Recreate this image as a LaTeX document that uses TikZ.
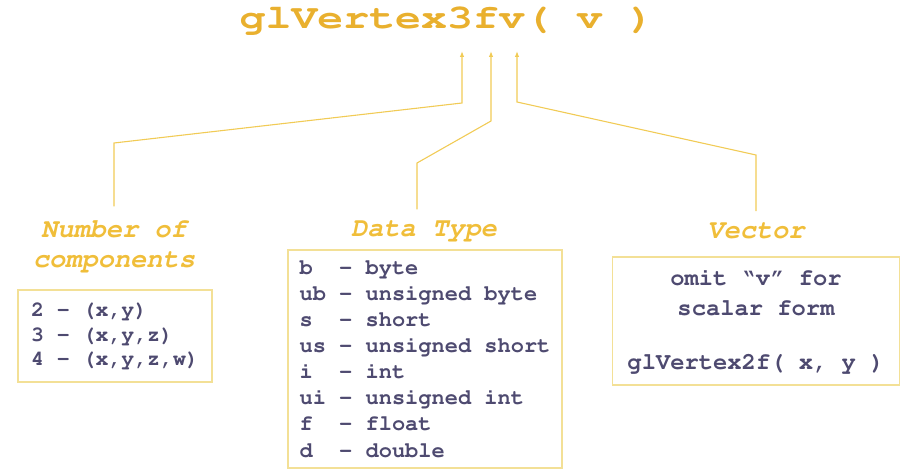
\documentclass[tikz,border=0pt]{standalone}
\usepackage[T1]{fontenc}
\usepackage{graphicx}
\usetikzlibrary{arrows.meta}
\newcommand{\courbold}{\fontencoding{T1}\fontfamily{pcr}\fontseries{b}\selectfont}
\definecolor{titlegold}{RGB}{233,176,46}
\definecolor{labelgold}{RGB}{240,190,58}
\definecolor{linegold}{RGB}{241,203,86}
\definecolor{boxline}{RGB}{243,224,150}
\definecolor{boxtext}{RGB}{78,74,112}
\tikzset{
	titletext/.style={font=\courbold\fontsize{34}{34}\selectfont, text=titlegold, inner sep=0pt},
	labeltext/.style={font=\courbold\itshape\fontsize{27}{30}\selectfont, text=labelgold, align=center, inner sep=0pt},
	listbox/.style={draw=boxline, line width=1.3pt, text=boxtext, inner sep=0pt},
	conn/.style={draw=linegold, line width=1.1pt, -{Latex[length=6pt,width=4.5pt]}}
}

\begin{document}
\begin{tikzpicture}[x=1pt,y=-1pt]
			%%%%% START %%%%%
			\useasboundingbox (0,0) rectangle (912,470);
			
			\node[titletext, anchor=base] (title) at (447,29) {\scalebox{1.27}[1]{glVertex3fv( v )}};
			
			\node[labeltext] (numlbl) at (114,246) {Number of\\components};
			\node[labeltext] (datalbl) at (424,231) {Data Type};
			\node[labeltext] (veclbl) at (756,231) {Vector};
			
			\node[listbox, minimum width=194pt, minimum height=92pt, align=left,
				font=\courbold\fontsize{21.5}{24.5}\selectfont] (numbox) at (115,336)
				{2 - (x,y)\\3 - (x,y,z)\\4 - (x,y,z,w)};
			\node[listbox, minimum width=274pt, minimum height=218pt, align=left,
				font=\courbold\fontsize{22}{26.1}\selectfont] (databox) at (425,359)
				{b\ \ - byte\\ub - unsigned byte\\s\ \ - short\\us - unsigned short\\i\ \ - int\\ui - unsigned int\\f\ \ - float\\d\ \ - double};
			\node[listbox, minimum width=287pt, minimum height=128pt, align=center,
				font=\courbold\fontsize{23.8}{30}\selectfont] (vecbox) at (756,321)
				{omit \textquotedblleft v\textquotedblright\ for\\scalar form\\[24pt]glVertex2f( x, y )};
			
			\coordinate (tipA) at (462,51);
			\coordinate (kneeA) at (462,103);
			\coordinate (footA) at (114,143);
			\coordinate (tipB) at (491,51);
			\coordinate (kneeB) at (491,121);
			\coordinate (footB) at (417,163);
			\coordinate (tipC) at (517,51);
			\coordinate (kneeC) at (517,102);
			\coordinate (footC) at (756,155);
			
			\draw[conn] ([yshift=14pt]numlbl.north) -- (footA) -- (kneeA) -- (tipA);
			\draw[conn] ([yshift=12pt]footB |- datalbl.north) -- (footB) -- (kneeB) -- (tipB);
			\draw[conn] ([yshift=12pt]veclbl.north) -- (footC) -- (kneeC) -- (tipC);
			
			%%%%% END %%%%%
\end{tikzpicture}
\end{document}
